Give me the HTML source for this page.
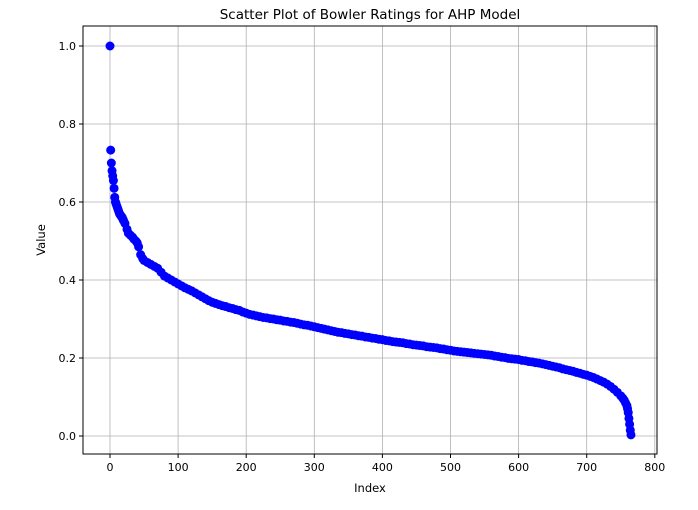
<!DOCTYPE html>
<html><head><meta charset="utf-8"><style>
body{margin:0;background:#fff;}
svg text{font-family:"DejaVu Sans","Liberation Sans",sans-serif;fill:#000;}
</style></head><body>
<svg id="chart" width="698" height="505" xmlns="http://www.w3.org/2000/svg">
<rect width="698" height="505" fill="#fff"/>
<g id="grid"></g>
<g id="pts"></g>
<rect x="83" y="26" width="574" height="428" fill="none" stroke="#000" stroke-width="1"/>
<g id="ticks"></g>
<text x="370" y="19" text-anchor="middle" font-size="13.5">Scatter Plot of Bowler Ratings for AHP Model</text>
<text x="370" y="492" text-anchor="middle" font-size="11.5">Index</text>
<text x="45" y="240" text-anchor="middle" font-size="11.5" transform="rotate(-90 45 240)">Value</text>
</svg>
<script>
const xTicks=[0,100,200,300,400,500,600,700,800];
const yTicks=[0.0,0.2,0.4,0.6,0.8,1.0];
const indices=[0,1,2,3,4,5,6,7,8,9,10,11,12,13,14,15,16,17,18,19,20,22,25,27,30,33,35,38,40,42,45,48,50,55,60,65,70,75,80,85,90,95,100,105,110,115,120,125,130,135,140,145,150,155,160,165,170,175,180,185,190,195,200,205,210,215,220,225,230,235,240,245,250,255,260,265,270,275,280,285,290,295,300,305,310,315,320,325,330,335,340,345,350,355,360,365,370,375,380,385,390,395,400,405,410,415,420,425,430,435,440,445,450,455,460,465,470,475,480,485,490,495,500,505,510,515,520,525,530,535,540,545,550,555,560,565,570,575,580,585,590,595,600,605,610,615,620,625,630,635,640,645,650,655,660,665,670,675,680,685,690,695,700,705,710,715,720,725,730,735,740,745,750,753,755,757,759,760,761,762,763,764,765];
const values=[1.0,0.733,0.70,0.68,0.667,0.655,0.635,0.612,0.60,0.595,0.59,0.585,0.58,0.575,0.57,0.567,0.565,0.562,0.56,0.556,0.552,0.545,0.53,0.52,0.515,0.51,0.505,0.50,0.495,0.485,0.465,0.455,0.45,0.445,0.44,0.435,0.43,0.42,0.41,0.405,0.40,0.395,0.39,0.385,0.38,0.376,0.372,0.367,0.362,0.357,0.352,0.347,0.343,0.340,0.337,0.334,0.332,0.329,0.327,0.324,0.322,0.318,0.315,0.312,0.310,0.308,0.306,0.304,0.303,0.301,0.300,0.298,0.297,0.295,0.294,0.292,0.291,0.289,0.287,0.285,0.284,0.282,0.280,0.278,0.276,0.274,0.272,0.270,0.268,0.266,0.265,0.263,0.262,0.260,0.259,0.257,0.256,0.254,0.253,0.251,0.250,0.248,0.247,0.245,0.244,0.242,0.241,0.240,0.239,0.237,0.236,0.234,0.233,0.232,0.231,0.229,0.228,0.227,0.226,0.224,0.223,0.221,0.220,0.218,0.217,0.216,0.215,0.214,0.213,0.212,0.211,0.210,0.209,0.208,0.207,0.205,0.204,0.202,0.201,0.199,0.198,0.197,0.196,0.194,0.193,0.191,0.190,0.188,0.187,0.185,0.183,0.181,0.179,0.177,0.175,0.172,0.170,0.168,0.166,0.163,0.161,0.158,0.156,0.153,0.150,0.146,0.142,0.138,0.133,0.127,0.120,0.112,0.103,0.097,0.092,0.085,0.078,0.07,0.06,0.045,0.03,0.015,0.003];
const NS='http://www.w3.org/2000/svg';
const X=v=>110+v*0.681;
const Y=v=>436-v*390;
const grid=document.getElementById('grid'),ticks=document.getElementById('ticks'),pts=document.getElementById('pts');
function mk(tag,attrs,parent){const e=document.createElementNS(NS,tag);for(const k in attrs)e.setAttribute(k,attrs[k]);parent.appendChild(e);return e;}
xTicks.forEach(t=>{
 const g=mk('line',{x1:X(t),x2:X(t),y1:26,y2:454,stroke:'#b0b0b0','stroke-width':0.8},grid);
 
 
 mk('line',{x1:X(t),x2:X(t),y1:454,y2:458,stroke:'#000'},ticks);
 const tx=mk('text',{x:X(t),y:471,'text-anchor':'middle','font-size':11},ticks);
 tx.textContent=t;
 
 
});
yTicks.forEach(t=>{
 const g=mk('line',{x1:83,x2:657,y1:Y(t),y2:Y(t),stroke:'#b0b0b0','stroke-width':0.8},grid);
 
 
 mk('line',{x1:79,x2:83,y1:Y(t),y2:Y(t),stroke:'#000'},ticks);
 const tx=mk('text',{x:76,y:Y(t)+4,'text-anchor':'end','font-size':11},ticks);
 tx.textContent=t.toFixed(1);
 
 
});
indices.forEach((ix,i)=>{
 const c=mk('circle',{cx:X(ix),cy:Y(values[i]),r:4.5,fill:'#0000ff'},pts);
 
 
});
</script>
</body></html>
